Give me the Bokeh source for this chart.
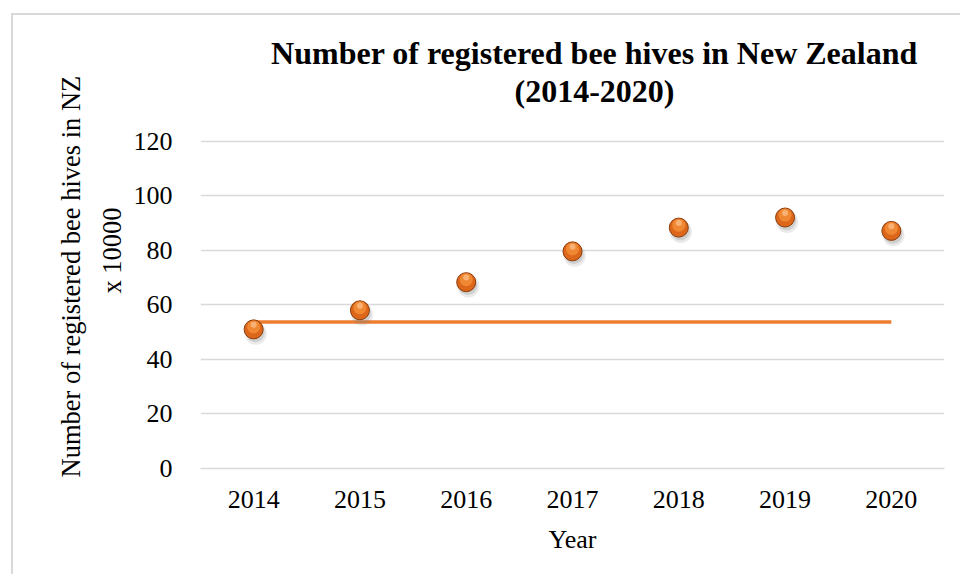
from bokeh.plotting import figure
from bokeh.models import (FactorRange, Range1d, Title, ColumnDataSource, CategoricalAxis)
from bokeh.transform import dodge
from bokeh.embed import file_html
from bokeh.resources import INLINE

# ---- data ----
years = ["2014", "2015", "2016", "2017", "2018", "2019", "2020"]
hives = [51.0, 58.0, 68.3, 79.6, 88.3, 92.0, 87.1]
reference_line = [53.7, 53.7, 53.7, 53.7, 53.7, 53.7, 53.7]
y_ticks = [0, 20, 40, 60, 80, 100, 120]
title_lines = ["Number of registered bee hives in New Zealand", "(2014-2020)"]
ylabel_lines = ["Number of registered bee hives in NZ", "x 10000"]
xlabel = "Year"

FONT = "Liberation Serif"

src = ColumnDataSource(dict(year=years, hives=hives, ref=reference_line))

p = figure(width=949, height=561, x_range=FactorRange(*years), y_range=Range1d(0, 120.6),
           output_backend="svg", toolbar_location=None, title=None,
           min_border_left=187, min_border_right=18, min_border_top=124, min_border_bottom=108)
p.margin = (13, 0, 0, 11)
p.styles = {"border-left": "2px solid #d9d9d9", "border-top": "2px solid #d9d9d9"}
p.outline_line_color = None
p.background_fill_color = "white"
p.border_fill_color = "white"

# grid
p.xgrid.grid_line_color = None
p.ygrid.grid_line_color = "#d9d9d9"
p.ygrid.grid_line_width = 1.5
p.yaxis.ticker = y_ticks

# axes
for ax in (p.xaxis, p.yaxis):
    ax.major_tick_line_color = None
    ax.minor_tick_line_color = None
    ax.major_label_text_font = FONT
    ax.major_label_text_font_size = "26px"
    ax.major_label_text_color = "black"
p.yaxis.axis_line_color = None
p.yaxis.major_label_standoff = 22
p.xaxis.axis_line_color = "#d9d9d9"
p.xaxis.axis_line_width = 1.5
p.xaxis.major_label_standoff = 16
p.xaxis.axis_label = xlabel
p.xaxis.axis_label_text_font = FONT
p.xaxis.axis_label_text_font_size = "26px"
p.xaxis.axis_label_text_font_style = "normal"
p.xaxis.axis_label_text_color = "black"
p.xaxis.axis_label_standoff = 14

# reference line
p.line(x="year", y="ref", source=src, line_color="#ED7D31", line_width=3.5)

# balls: shadow, body, highlights
p.scatter(x=dodge("year", 0.02, range=p.x_range), y=dodge("hives", -1.6, range=p.y_range), source=src,
          size=22, fill_color="#7f7f7f", fill_alpha=0.16, line_color=None)
p.scatter(x=dodge("year", 0.015, range=p.x_range), y=dodge("hives", -1.2, range=p.y_range), source=src,
          size=19, fill_color="#7f7f7f", fill_alpha=0.25, line_color=None)
p.scatter(x="year", y="hives", source=src, size=19, fill_color="#DC661A",
          line_color="#8a3d0c", line_width=1)
p.scatter(x="year", y=dodge("hives", 0.9, range=p.y_range), source=src, size=13,
          fill_color="#F08833", line_color=None)
p.scatter(x="year", y=dodge("hives", 1.7, range=p.y_range), source=src, size=6,
          fill_color="#F9B57C", line_color=None, fill_alpha=0.9)

# chart title: two text-only categorical axes above the frame; padding puts the
# text centre a little right of the frame centre, as in the reference
TITLE_PAD = 7.455
for i, (text, standoff) in enumerate(((title_lines[1], 25), (title_lines[0], -7))):
    name = "title%d" % i
    p.extra_x_ranges[name] = FactorRange(factors=[" ", text], range_padding=TITLE_PAD,
                                         range_padding_units="absolute")
    ax = CategoricalAxis(x_range_name=name)
    ax.axis_line_color = None
    ax.major_tick_line_color = None
    ax.minor_tick_line_color = None
    ax.major_label_standoff = standoff
    ax.major_label_text_font = FONT
    ax.major_label_text_font_size = "32px"
    ax.major_label_text_font_style = "bold"
    ax.major_label_text_color = "black"
    p.add_layout(ax, "above")

# y-axis title (two lines), nearest-to-frame first
p.add_layout(Title(text=ylabel_lines[1], align="left", offset=175, text_font=FONT, text_font_size="26.5px",
                   text_font_style="normal", text_color="black", standoff=8), "left")
p.add_layout(Title(text=ylabel_lines[0], align="left", offset=-9, text_font=FONT, text_font_size="26.5px",
                   text_font_style="normal", text_color="black", standoff=10), "left")

open("out.html", "w").write(file_html(p, INLINE))
